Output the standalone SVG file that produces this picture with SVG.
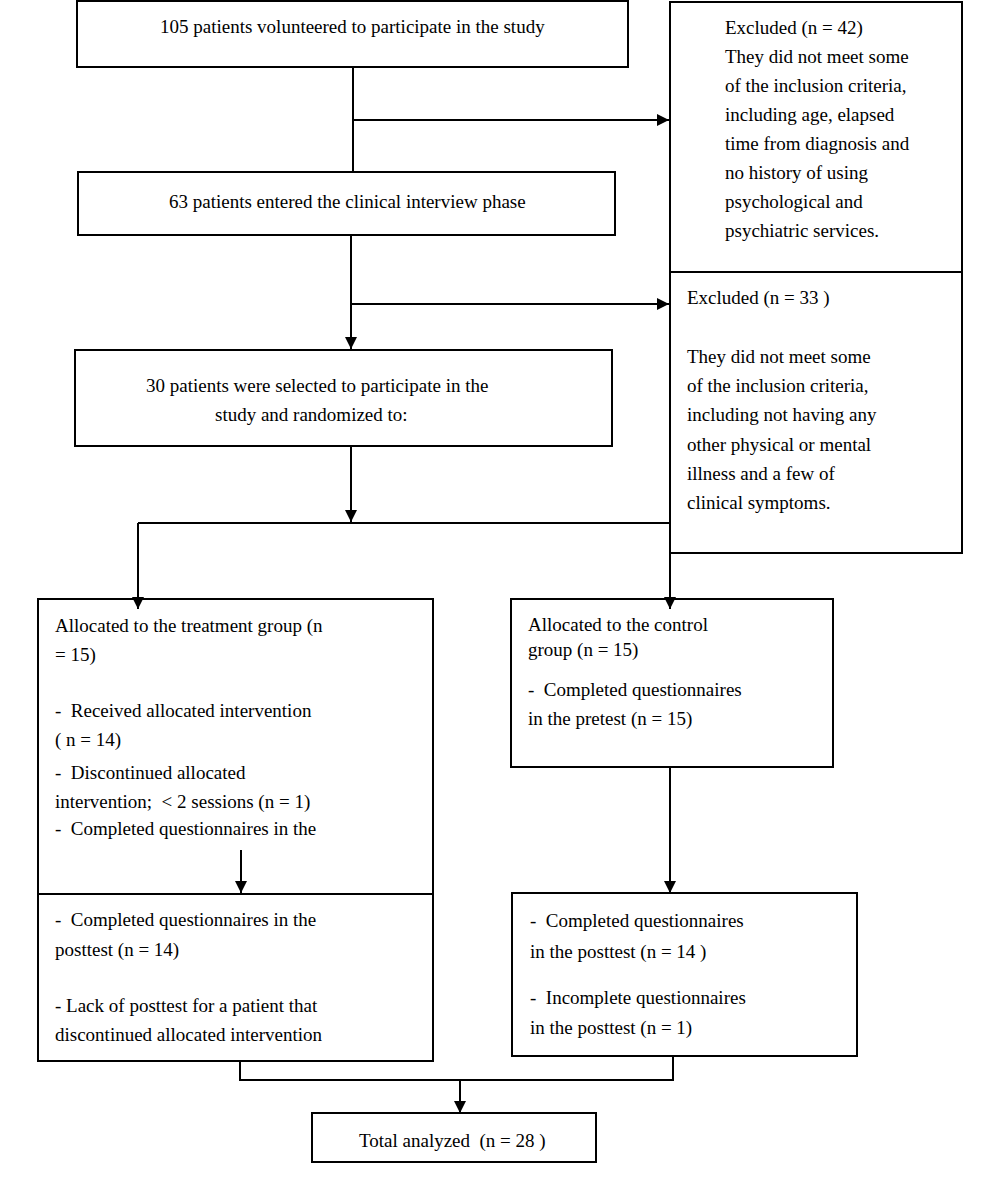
<svg xmlns="http://www.w3.org/2000/svg" width="1000" height="1184" viewBox="0 0 1000 1184">
<defs>
<style>
.box{fill:#fff;stroke:#000;stroke-width:2}
.ln{fill:none;stroke:#000;stroke-width:2}
text{font-family:"Liberation Serif","DejaVu Serif",serif;font-size:19px;fill:#000;white-space:pre}
</style>
<marker id="ahw" viewBox="0 0 10 10" refX="10" refY="5" markerWidth="12" markerHeight="12" markerUnits="userSpaceOnUse" orient="auto">
<path d="M0,0 L10,5 L0,10 z" fill="#000"/>
</marker>
</defs>
<g id="n1"><rect class="box" x="77" y="1" width="551" height="66"/>
<text x="160" y="33">105 patients volunteered to participate in the study</text></g>
<g id="n2"><rect class="box" x="670" y="2" width="292" height="270"/>
<text x="725" y="34">Excluded (n = 42)</text>
<text x="725" y="63">They did not meet some</text>
<text x="725" y="92">of the inclusion criteria,</text>
<text x="725" y="121">including age, elapsed</text>
<text x="725" y="150">time from diagnosis and</text>
<text x="725" y="179">no history of using</text>
<text x="725" y="208">psychological and</text>
<text x="725" y="237">psychiatric services.</text></g>
<g id="n3"><rect class="box" x="78" y="172" width="537" height="63"/>
<text x="169" y="208">63 patients entered the clinical interview phase</text></g>
<g id="n4"><rect class="box" x="670" y="272" width="292" height="281"/>
<text x="687" y="304">Excluded (n = 33 )</text>
<text x="687" y="363">They did not meet some</text>
<text x="687" y="392">of the inclusion criteria,</text>
<text x="687" y="421">including not having any</text>
<text x="687" y="451">other physical or mental</text>
<text x="687" y="480">illness and a few of</text>
<text x="687" y="509">clinical symptoms.</text></g>
<g id="n5"><rect class="box" x="75" y="350" width="537" height="96"/>
<text x="146" y="392">30 patients were selected to participate in the</text>
<text x="215" y="421">study and randomized to:</text></g>
<g id="n6"><rect class="box" x="38" y="599" width="395" height="295"/>
<text x="55" y="632">Allocated to the treatment group (n</text>
<text x="55" y="661">= 15)</text>
<text x="55" y="717">-  Received allocated intervention</text>
<text x="55" y="746">( n = 14)</text>
<text x="55" y="779">-  Discontinued allocated</text>
<text x="55" y="808">intervention;  &lt; 2 sessions (n = 1)</text>
<text x="55" y="835">-  Completed questionnaires in the</text></g>
<g id="n7"><rect class="box" x="38" y="894" width="395" height="167"/>
<text x="55" y="926">-  Completed questionnaires in the</text>
<text x="55" y="956">posttest (n = 14)</text>
<text x="55" y="1012">- Lack of posttest for a patient that</text>
<text x="55" y="1041">discontinued allocated intervention</text></g>
<g id="n8"><rect class="box" x="511" y="599" width="322" height="168"/>
<text x="528" y="631">Allocated to the control</text>
<text x="528" y="656">group (n = 15)</text>
<text x="528" y="696">-  Completed questionnaires</text>
<text x="528" y="725">in the pretest (n = 15)</text></g>
<g id="n9"><rect class="box" x="512" y="893" width="345" height="163"/>
<text x="530" y="927">-  Completed questionnaires</text>
<text x="530" y="958">in the posttest (n = 14 )</text>
<text x="530" y="1004">-  Incomplete questionnaires</text>
<text x="530" y="1034">in the posttest (n = 1)</text></g>
<g id="n10"><rect class="box" x="312" y="1113" width="284" height="49"/>
<text x="359" y="1147">Total analyzed  (n = 28 )</text></g>
<g id="connectors">
<path class="ln" d="M353,67 V172"/>
<path class="ln" d="M353,120 H669" marker-end="url(#ahw)"/>
<path class="ln" d="M351,235 V349" marker-end="url(#ahw)"/>
<path class="ln" d="M351,304 H669" marker-end="url(#ahw)"/>
<path class="ln" d="M351,446 V522" marker-end="url(#ahw)"/>
<path class="ln" d="M138,523 H670"/>
<path class="ln" d="M138,523 V609" marker-end="url(#ahw)"/>
<path class="ln" d="M670,523 V609" marker-end="url(#ahw)"/>
<path class="ln" d="M670,767 V893" marker-end="url(#ahw)"/>
<path class="ln" d="M241,850 V893" marker-end="url(#ahw)"/>
<path class="ln" d="M240,1061 V1080 H673 V1056"/>
<path class="ln" d="M460,1080 V1113" marker-end="url(#ahw)"/>
</g>
</svg>
